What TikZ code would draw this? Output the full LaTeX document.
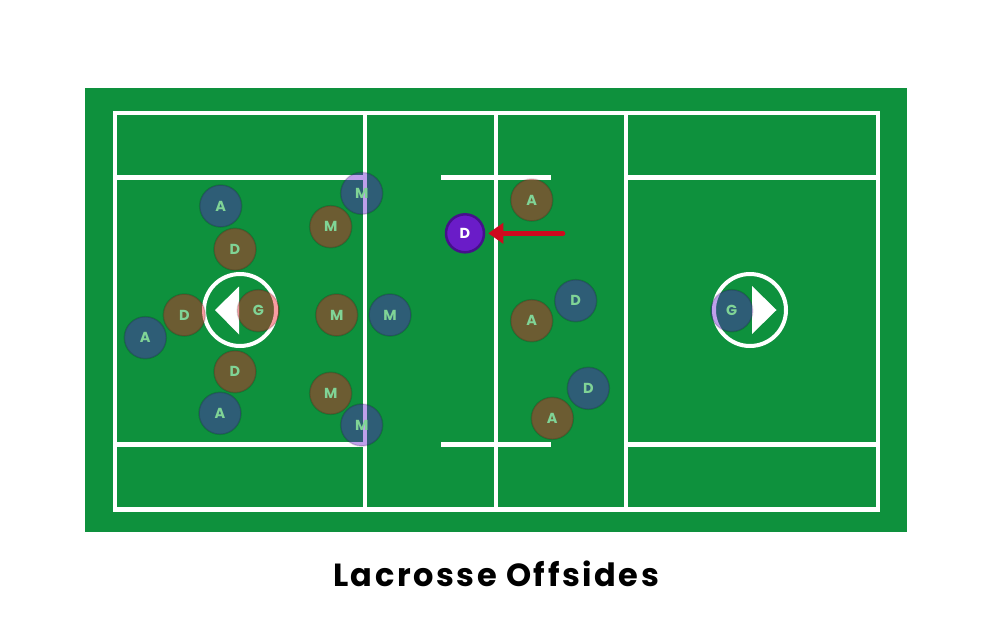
\documentclass[tikz,border=0pt]{standalone}
\usepackage{fontspec}
\setmainfont{Poppins}
\usetikzlibrary{arrows.meta}
\definecolor{field}{RGB}{14,145,61}
\definecolor{redteam}{RGB}{240,20,35}
\definecolor{purpteam}{RGB}{95,15,205}
\definecolor{centerD}{RGB}{106,28,200}
\definecolor{centerDb}{RGB}{70,16,140}
\definecolor{lettergreen}{RGB}{128,212,150}
\definecolor{arrowred}{RGB}{205,10,30}
\tikzset{
  fieldline/.style={draw=white, line width=4.2pt},
  player/.style={circle, minimum size=42pt, inner sep=0pt, outer sep=0pt,
    draw=black, draw opacity=0.14, line width=1.5pt, text=lettergreen,
    font=\fontsize{14.5}{14.5}\selectfont\bfseries},
  redp/.style={player, fill=redteam, fill opacity=0.42, text opacity=1},
  purp/.style={player, fill=purpteam, fill opacity=0.40, text opacity=1},
  crease/.style={circle, draw=white, line width=4pt, minimum size=72pt, inner sep=0pt},
  gtri/.style={fill=white, draw=none},
}
\begin{document}
\begin{tikzpicture}[x=1pt,y=-1pt]
\useasboundingbox (0,0) rectangle (992,621);
\fill[white] (0,0) rectangle (992,621);
% field
\fill[field] (85,88) rectangle (907,532);
% lines
\draw[fieldline] (114.7,112.7) rectangle (878,509.5);
\draw[fieldline] (365.3,112.7) -- (365.3,509.5);
\draw[fieldline] (496,112.7) -- (496,509.5);
\draw[fieldline] (626,112.7) -- (626,509.5);
\draw[fieldline] (114.7,177.5) -- (365.3,177.5);
\draw[fieldline] (114.7,444.5) -- (365.3,444.5);
\draw[fieldline] (626,177.5) -- (878,177.5);
\draw[fieldline] (626,444.5) -- (878,444.5);
\draw[fieldline] (441,177.5) -- (551,177.5);
\draw[fieldline] (441,444.5) -- (551,444.5);
% creases and goals
\node[crease] (lcrease) at (240,310) {};
\node[crease] (rcrease) at (750,310) {};
\fill[gtri] (215,310) -- (239,286.5) -- (239,334.5) -- cycle;
\fill[gtri] (776.5,310) -- (752,286) -- (752,334) -- cycle;
% red team
\node[redp] (ra1) at (531.7,200) {A};
\node[redp] (ra2) at (531.7,320.7) {A};
\node[redp] (ra3) at (552.3,418.3) {A};
\node[redp] (rd1) at (235,249.3) {D};
\node[redp] (rd2) at (184.3,315) {D};
\node[redp] (rd3) at (235,371.7) {D};
\node[redp] (rg) at (258.3,310.7) {G};
\node[redp] (rm1) at (330.7,226.7) {M};
\node[redp] (rm2) at (336.7,315) {M};
\node[redp] (rm3) at (330.7,393.3) {M};
% purple team
\node[purp] (pa1) at (220.7,206) {A};
\node[purp] (pa2) at (145.3,337.7) {A};
\node[purp] (pa3) at (220,413.3) {A};
\node[purp] (pm1) at (361.7,193.3) {M};
\node[purp] (pm2) at (390,315) {M};
\node[purp] (pm3) at (361.7,425) {M};
\node[purp] (pd1) at (575.7,300.7) {D};
\node[purp] (pd2) at (588.3,388.3) {D};
\node[purp] (pg) at (731.7,310.7) {G};
% offside defender
\node[circle, minimum size=38pt, inner sep=0pt, fill=centerD, draw=centerDb,
  line width=2.5pt, text=white, font=\fontsize{14.5}{14.5}\selectfont\bfseries]
  (offD) at (465,233.3) {D};
\coordinate (arrtail) at (563,233.3);
\draw[arrowred, line width=4.5pt, line cap=round,
  -{Triangle[length=15pt,width=20pt]}, shorten >=3pt] (arrtail) -- (offD);
% title
\node[font=\fontsize{32}{32}\selectfont\bfseries\addfontfeature{LetterSpace=8}, text=black, anchor=base]
  (title) at (496,586.7) {Lacrosse Offsides};
\end{tikzpicture}
\end{document}
